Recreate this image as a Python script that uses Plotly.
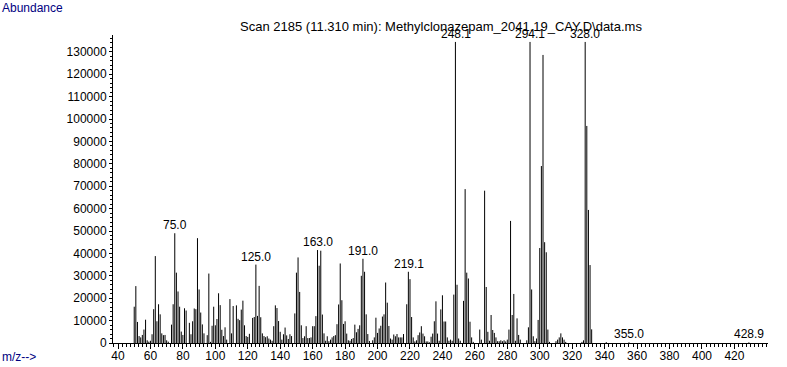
import plotly.graph_objects as go

# ---- data ----
mz = [50, 51, 52, 53, 54, 55, 56, 57, 58, 59, 60, 61, 62, 63, 64, 65, 66, 67, 68, 69,
      70, 71, 73, 74, 75, 76, 77, 78, 79, 80, 81, 82, 84, 85, 86, 87, 88, 89, 90, 91,
      92, 93, 95, 96, 97, 98, 99, 100, 101, 102, 103, 104, 105, 106, 107, 109, 110, 111,
      113, 114, 115, 116, 117, 118, 119, 120, 121, 123, 124, 125, 126, 127, 128, 129,
      130, 131, 132, 133, 134, 135, 136, 137, 138, 139, 140, 141, 142, 143, 144, 145,
      146, 147, 149, 150, 151, 152, 153, 154, 155, 156, 157, 158, 159, 160, 161, 162,
      163, 164, 165, 166, 167, 168, 169, 170, 171, 172, 173, 174, 175, 176, 177, 178,
      179, 180, 181, 182, 183, 184, 185, 186, 187, 188, 189, 190, 191, 192, 193, 194,
      195, 197, 198, 199, 200, 201, 202, 203, 204, 205, 206, 207, 208, 209, 210, 211,
      212, 213, 214, 215, 216, 218, 219, 220, 221, 222, 223, 224, 225, 226, 227, 228,
      229, 230, 231, 232, 233, 234, 235, 236, 237, 238, 239, 240, 241, 242, 243, 244,
      245, 246, 247, 248, 249, 250, 251, 253, 254, 255, 256, 257, 258, 259, 263, 264,
      266, 267, 268, 269, 270, 271, 272, 273, 274, 275, 276, 277, 278, 279, 280, 281,
      282, 283, 284, 285, 286, 287, 288, 292, 293, 294, 295, 296, 297, 298, 299, 300,
      301, 302, 303, 304, 305, 306, 310, 311, 312, 313, 314, 315, 316, 326, 327, 328,
      329, 330, 331, 332, 341, 355, 428.9]
abundance = [16200, 25400, 9400, 3100, 2500, 3600, 6000, 10400, 1200, 600, 1000, 3900, 15100, 38800, 9700, 17300, 12800, 4300, 3500, 3600,
             1200, 600, 8200, 17300, 49000, 31400, 23000, 16200, 5100, 3600, 15500, 14500, 9000, 3900, 9700, 15400, 15100, 46800, 23900, 13600,
             8300, 4300, 3500, 31000, 500, 7700, 16200, 7900, 10700, 22200, 16900, 5900, 3100, 7000, 1500, 19600, 4300, 16500,
             16800, 10800, 10200, 14900, 18900, 7900, 3100, 2700, 4100, 11200, 11600, 35000, 12100, 25500, 11500, 4300,
             3100, 2600, 3000, 2000, 1500, 1000, 7500, 16800, 15600, 9800, 5000, 1500, 3900, 6900, 3400, 1800,
             3900, 3100, 13200, 31400, 38200, 22800, 7900, 2200, 3000, 7500, 2200, 2200, 2500, 7500, 7500, 12000,
             41500, 34500, 41200, 12700, 4300, 1000, 3000, 800, 1500, 2500, 3100, 3500, 8400, 17200, 35500, 19100,
             8500, 9700, 4200, 1200, 1000, 1800, 2200, 8200, 4800, 6300, 7900, 30000, 37600, 31800, 12800, 4000,
             900, 1200, 2500, 11300, 4500, 6500, 7700, 11800, 12800, 27000, 18000, 7600, 2000, 1500, 3800, 3000,
             4000, 2500, 2500, 2500, 4000, 17300, 31800, 28500, 11600, 2500, 700, 1200, 3500, 4700, 7500, 4200,
             3000, 700, 700, 300, 2800, 4200, 9700, 18600, 4200, 1000, 15000, 21300, 9600, 9600, 2500, 1000,
             1500, 1000, 21600, 134400, 26000, 2000, 1000, 18800, 68700, 31400, 28800, 9500, 2500, 500, 6000, 1500,
             68000, 25000, 5000, 1000, 12500, 5800, 4500, 2500, 800, 800, 1200, 800, 1200, 700, 1500, 6000,
             54500, 12500, 21900, 1000, 11000, 3600, 1500, 1200, 7000, 134400, 23900, 3000, 800, 2000, 10300, 42400,
             79000, 128600, 45000, 40500, 6000, 500, 800, 1500, 2500, 4300, 2500, 1500, 500, 500, 1200, 134400,
             96900, 59400, 34800, 6100, 400, 300, 300]

label_mz = [75.0, 125.0, 163.0, 191.0, 219.1, 248.1, 294.1, 328.0, 355.0, 428.9]
label_text = ["75.0", "125.0", "163.0", "191.0", "219.1", "248.1", "294.1", "328.0", "355.0", "428.9"]

x_ticks = list(range(40, 421, 20))
y_ticks = list(range(0, 130001, 10000))

title_text = "Scan 2185 (11.310 min): Methylclonazepam_2041.19_CAY.D\\data.ms"

# ---- build stick segments ----
xs, ys = [], []
for m, a in zip(mz, abundance):
    xs += [m, m, None]
    ys += [0, a, None]

fig = go.Figure()
fig.add_trace(go.Scatter(x=xs, y=ys, mode="lines",
                         line=dict(color="black", width=1),
                         hoverinfo="skip", showlegend=False))

font_main = "Liberation Sans, Arial, sans-serif"

# peak labels
peak_lookup = dict(zip(mz, abundance))
for lm, lt in zip(label_mz, label_text):
    nearest = min(mz, key=lambda v: abs(v - lm))
    fig.add_annotation(x=lm, y=peak_lookup[nearest], text=lt, showarrow=False,
                       xanchor="center", yanchor="bottom", yshift=-1,
                       font=dict(family=font_main, size=12, color="black"))

fig.add_annotation(xref="paper", yref="paper", x=-113 / 655, y=(343 - 8) / 308,
                   text="Abundance", showarrow=False, xanchor="left", yanchor="middle",
                   font=dict(family=font_main, size=12, color="#00007f"))
fig.add_annotation(xref="paper", yref="paper", x=-113 / 655, y=(343 - 357) / 308,
                   text="m/z-->", showarrow=False, xanchor="left", yanchor="middle",
                   font=dict(family=font_main, size=12, color="#00007f"))

fig.update_layout(
    width=787, height=367,
    margin=dict(l=113, r=19, t=35, b=24, autoexpand=False),
    paper_bgcolor="white", plot_bgcolor="white",
    title=dict(text=title_text, x=441 / 787, xanchor="center", xref="container",
               y=1 - 26 / 367, yanchor="middle", yref="container",
               font=dict(family=font_main, size=13, color="black")),
    font=dict(family=font_main, size=12, color="black"),
    showlegend=False,
)

fig.update_xaxes(range=[36.92, 440.7], tickvals=x_ticks, ticktext=[str(v) for v in x_ticks],
                 automargin=False, ticklabelstandoff=-3,
                 showgrid=False, zeroline=False, showline=True, linecolor="black", linewidth=1,
                 ticks="outside", ticklen=5, tickcolor="black", tickwidth=1,
                 minor=dict(dtick=2.5, tick0=40, ticks="outside", ticklen=3, tickcolor="black", tickwidth=1),
                 tickfont=dict(family=font_main, size=12, color="black"))
fig.update_yaxes(range=[0, 137500], tickvals=y_ticks, ticktext=[str(v) for v in y_ticks],
                 automargin=False,
                 showgrid=False, zeroline=False, showline=True, linecolor="black", linewidth=1,
                 ticks="outside", ticklen=3, tickcolor="black", tickwidth=1,
                 minor=dict(dtick=2000, ticks="outside", ticklen=2, tickcolor="black", tickwidth=1),
                 tickfont=dict(family=font_main, size=12, color="black"))

fig.write_html("out.html", config={"displayModeBar": False},
               post_script="document.body.style.margin='0px';document.body.style.overflow='hidden';")
